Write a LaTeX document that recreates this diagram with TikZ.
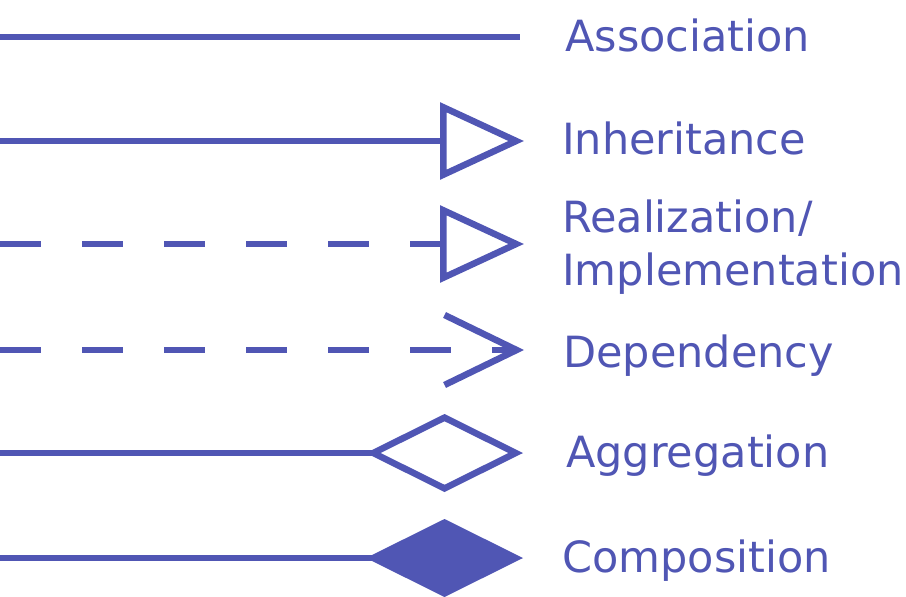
\documentclass[tikz,border=0pt]{standalone}
\usepackage{fontspec}
\setmainfont{DejaVu Sans}
\usepackage{tikz}
\usetikzlibrary{arrows.meta}
\definecolor{umlblue}{RGB}{80,86,180}

\begin{document}
\begin{tikzpicture}[
    x=1pt, y=-1pt,
    rel/.style={draw=umlblue, line width=6.5pt},
    dashrel/.style={rel, dash pattern=on 41pt off 41pt},
    lab/.style={anchor=base west, inner sep=0pt, text=umlblue, align=left,
        font=\fontsize{43}{53}\selectfont}
]
\useasboundingbox (0,0) rectangle (906,597);
% line ends
\coordinate (assoc-l) at (0,37);   \coordinate (assoc-r) at (520,37);
\coordinate (inher-l) at (0,141);  \coordinate (inher-r) at (524,141);
\coordinate (real-l)  at (0,244);  \coordinate (real-r)  at (524,244);
\coordinate (dep-l)   at (0,350);  \coordinate (dep-r)   at (524,350);
\coordinate (aggr-l)  at (0,453);  \coordinate (aggr-r)  at (523,453);
\coordinate (comp-l)  at (0,558);  \coordinate (comp-r)  at (523,558);

\draw[rel] (assoc-l) -- (assoc-r);
\draw[rel, -{Triangle[open, length=84pt, width=76pt]}] (inher-l) -- (inher-r);
\draw[dashrel, -{Triangle[open, length=84pt, width=76pt]}] (real-l) -- (real-r);
\draw[dashrel, -{Straight Barb[length=72pt, width=70pt]}] (dep-l) -- (dep-r);
\draw[rel, -{Diamond[open, length=157pt, width=78pt]}] (aggr-l) -- (aggr-r);
\draw[rel, -{Diamond[length=157pt, width=78pt]}] (comp-l) -- (comp-r);

% labels
\node[lab] (assoc) at (565,51) {Association};
\node[lab] (inher) at (562,154) {Inheritance};
\node[lab] (real) at (562,285) {Realization/\\Implementation};
\node[lab] (dep) at (563,367) {Dependency};
\node[lab] (aggr) at (566,467) {Aggregation};
\node[lab] (comp) at (562,572) {Composition};
\end{tikzpicture}
\end{document}
